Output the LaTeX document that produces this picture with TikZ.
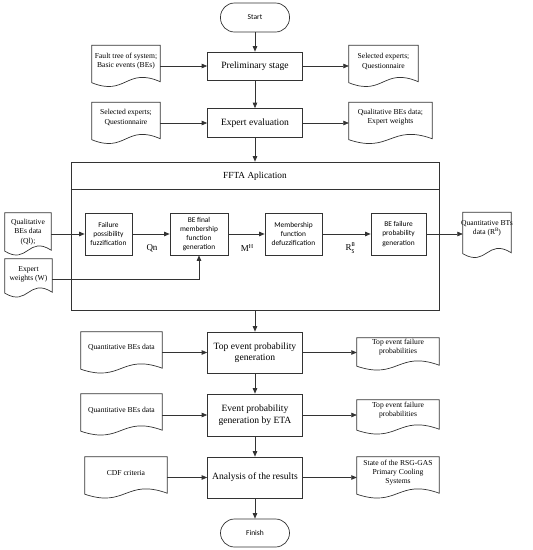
\documentclass[tikz,border=0pt]{standalone}
\usepackage{fontspec}
\setmainfont{Liberation Serif}
\newfontfamily\carl{Carlito}
\usetikzlibrary{arrows.meta}
\definecolor{ln}{HTML}{333333}
\newcommand\docnode[7]{%
  \node[docbox, minimum width=#4pt, minimum height=#5pt] (#1) at (#2,#3) {};
  \node[doctxt] (#1t) at ([yshift=#6pt]#1.center) {#7};
  \draw[docl] (#1.north west) -- (#1.north east) -- ([yshift=5pt]#1.south east)
    .. controls ([yshift=20pt]#1.south) and ([yshift=-10pt]#1.south) .. ([yshift=4pt]#1.south west) -- cycle;}
\begin{document}
\begin{tikzpicture}[x=1pt,y=-1pt,
  box/.style={draw=ln, line width=.7pt, fill=white, align=center, inner sep=1pt, minimum width=95pt, font=\fontsize{9.6}{11.5}\selectfont},
  ibox/.style={draw=ln, line width=.7pt, align=center, inner sep=1pt, minimum height=42pt, font=\carl\fontsize{7.4}{9.2}\selectfont},
  term/.style={draw=ln, line width=.7pt, rounded corners=14pt, minimum width=69pt, minimum height=29pt, font=\carl\fontsize{7.5}{9}\selectfont},
  docbox/.style={inner sep=0pt},
  doctxt/.style={align=center, inner sep=0pt, font=\fontsize{7.6}{9.2}\selectfont},
  docl/.style={draw=ln, line width=.7pt},
  lab/.style={inner sep=1pt, font=\fontsize{9}{10}\selectfont},
  arr/.style={draw=ln, line width=.7pt, -{Triangle[length=5.5pt,width=4.5pt]}}]
\useasboundingbox (0,0) rectangle (533,550);

% main column
\node[term] (start) at (255,17.5) {Start};
\node[box, minimum height=28pt] (prelim) at (255,66) {Preliminary stage};
\node[box, minimum height=29pt] (expert) at (255,123) {Expert evaluation};
\node[box, minimum height=41pt] (top) at (255,352.5) {Top event probability\\generation};
\node[box, minimum height=42pt] (eta) at (255,415) {Event probability\\generation by ETA};
\node[box, minimum height=41pt] (anal) at (255,477.5) {Analysis of the results};
\node[term, minimum height=28pt] (finish) at (255,533) {Finish};

% documents
\docnode{dL1}{126}{66}{68}{41}{4.5}{Fault tree of system;\\Basic events (BEs)}
\docnode{dR1}{383.5}{66}{69}{41}{4.5}{Selected experts;\\Questionnaire}
\docnode{dL2}{126}{123}{68}{41}{5.5}{Selected experts;\\Questionnaire}
\docnode{dR2}{390.5}{123}{83}{41}{5.5}{Qualitative BEs data;\\Expert weights}
\docnode{dL3}{121.5}{352.5}{81}{41}{5.5}{Quantitative BEs data}
\docnode{dR3}{398}{354}{82}{32}{6.5}{Top event failure\\probabilities}
\docnode{dL4}{121.5}{414.5}{81}{41}{4.5}{Quantitative BEs data}
\docnode{dR4}{398}{417}{82}{34}{6.7}{Top event failure\\probabilities}
\docnode{dL5}{126}{477.5}{82}{41}{4.5}{CDF criteria}
\docnode{dR5}{398}{477.5}{82}{41}{5}{State of the RSG-GAS\\Primary Cooling\\Systems}

% FFTA container
\node[draw=ln, line width=.7pt, minimum width=368pt, minimum height=148pt, inner sep=0pt] (ffta) at (255,236) {};
\draw[docl] ([yshift=-28pt]ffta.north west) -- ([yshift=-28pt]ffta.north east);
\node[font=\fontsize{9.3}{11}\selectfont] (fftat) at (255,176) {FFTA Aplication};

\node[ibox, minimum width=47pt] (f1) at (108.5,234) {Failure\\possibility\\fuzzification};
\node[ibox, minimum width=58pt] (f2) at (199,234) {BE final\\membership\\function\\generation};
\node[ibox, minimum width=57pt] (f3) at (293.5,234) {Membership\\function\\defuzzification};
\node[ibox, minimum width=55pt] (f4) at (398.5,234) {BE failure\\probability\\generation};

\node[lab] (lqn) at (152,248) {Qn};
\node[lab] (lmh) at (247,248) {M\raisebox{3.5pt}{\fontsize{6}{6}\selectfont H}};
\node[lab] (lrb) at (350,248) {R\rlap{\raisebox{4pt}{\carl\fontsize{6}{6}\selectfont B}}\raisebox{-3.6pt}{\carl\fontsize{6}{6}\selectfont S}};

\docnode{ql}{28}{234}{46}{42}{2}{Qualitative\\BEs data\\(Ql);}
\docnode{ew}{28.5}{278}{47}{38}{3.5}{Expert\\weights (W)}
\docnode{qb}{487}{235}{48}{45}{6.5}{Quantitative BTs\\data (R\raisebox{3pt}{\fontsize{5}{5}\selectfont B})}

% vertical flow
\draw[arr] (start) -- (prelim);
\draw[arr] (prelim) -- (expert);
\draw[arr] (expert) -- (ffta.north -| expert);
\draw[arr] (ffta.south -| top) -- (top);
\draw[arr] (top) -- (eta);
\draw[arr] (eta) -- (anal);
\draw[arr] (anal) -- (finish);

% horizontal flows
\draw[arr] (dL1.east |- prelim) -- (prelim.west);
\draw[arr] (prelim.east) -- (prelim.east -| dR1.west);
\draw[arr] (dL2.east |- expert) -- (expert.west);
\draw[arr] (expert.east) -- (expert.east -| dR2.west);
\draw[arr] (dL3.east |- top) -- (top.west);
\draw[arr] (top.east) -- (top.east -| dR3.west);
\draw[arr] (dL4.east |- eta) -- (eta.west);
\draw[arr] (eta.east) -- (eta.east -| dR4.west);
\draw[arr] (dL5.east |- anal) -- (anal.west);
\draw[arr] (anal.east) -- (anal.east -| dR5.west);

\draw[arr] (ql.east |- f1) -- (f1.west);
\draw[arr] (f1) -- (f2);
\draw[arr] (f2) -- (f3);
\draw[arr] (f3) -- (f4);
\draw[arr] (f4.east) -- (f4.east -| qb.west);
\draw[arr] ([yshift=-1pt]ew.east) -| (f2.south);
\end{tikzpicture}
\end{document}
